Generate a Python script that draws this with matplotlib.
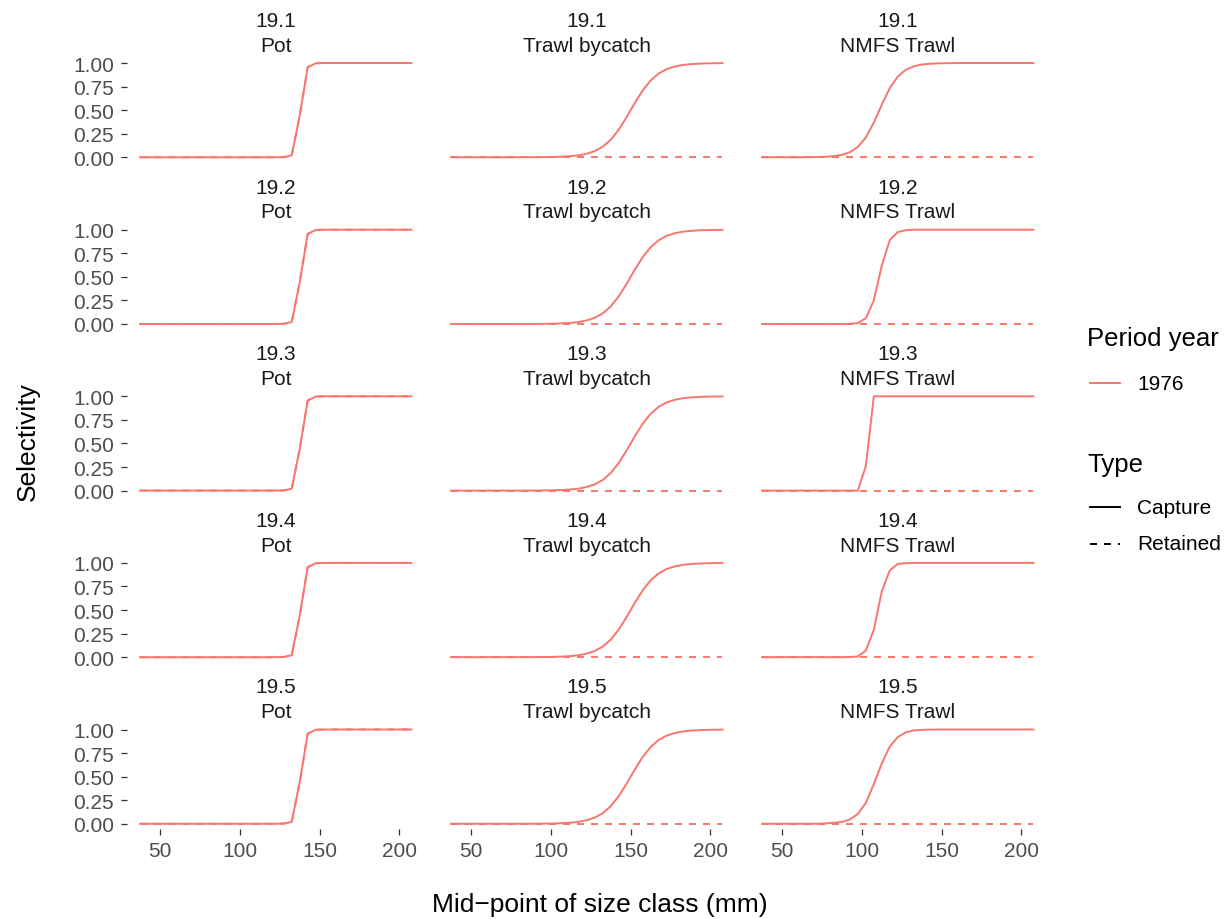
import matplotlib.pyplot as plt
from matplotlib.lines import Line2D

plt.rcParams['font.family'] = ['Liberation Sans', 'DejaVu Sans']

# size class mid-points (mm)
sizes = [37.5, 42.5, 47.5, 52.5, 57.5, 62.5, 67.5, 72.5, 77.5, 82.5,
         87.5, 92.5, 97.5, 102.5, 107.5, 112.5, 117.5, 122.5, 127.5, 132.5,
         137.5, 142.5, 147.5, 152.5, 157.5, 162.5, 167.5, 172.5, 177.5, 182.5,
         187.5, 192.5, 197.5, 202.5, 207.5]

models = ['19.1', '19.2', '19.3', '19.4', '19.5']
fleets = ['Pot', 'Trawl bycatch', 'NMFS Trawl']

pot = [0, 0, 0, 0, 0, 0, 0, 0, 0, 0,
       0, 0, 0, 0, 0, 0, 0, 0, 0.002, 0.02,
       0.44, 0.955, 0.997, 1, 1, 1, 1, 1, 1, 1,
       1, 1, 1, 1, 1]

trawl = [0, 0, 0, 0, 0, 0, 0, 0, 0, 0.0003,
         0.0006, 0.001, 0.002, 0.004, 0.007, 0.012, 0.021, 0.038, 0.066, 0.112,
         0.186, 0.292, 0.427, 0.573, 0.708, 0.814, 0.888, 0.935, 0.962, 0.979,
         0.988, 0.993, 0.996, 0.998, 0.999]

nmfs_1 = [0, 0, 0, 0, 0, 0, 0.001, 0.003, 0.006, 0.012,
          0.026, 0.054, 0.11, 0.21, 0.367, 0.558, 0.733, 0.856, 0.928, 0.965,
          0.984, 0.992, 0.996, 0.998, 0.999, 1, 1, 1, 1, 1,
          1, 1, 1, 1, 1]
nmfs_2 = [0, 0, 0, 0, 0, 0, 0, 0, 0, 0,
          0, 0.002, 0.01, 0.06, 0.25, 0.62, 0.89, 0.975, 0.995, 1,
          1, 1, 1, 1, 1, 1, 1, 1, 1, 1,
          1, 1, 1, 1, 1]
nmfs_3 = [0, 0, 0, 0, 0, 0, 0, 0, 0, 0,
          0, 0, 0, 0.26, 1, 1, 1, 1, 1, 1,
          1, 1, 1, 1, 1, 1, 1, 1, 1, 1,
          1, 1, 1, 1, 1]
nmfs_4 = [0, 0, 0, 0, 0, 0, 0, 0, 0, 0,
          0, 0.002, 0.008, 0.07, 0.29, 0.70, 0.92, 0.99, 0.998, 1,
          1, 1, 1, 1, 1, 1, 1, 1, 1, 1,
          1, 1, 1, 1, 1]
nmfs_5 = [0, 0, 0, 0, 0, 0, 0, 0, 0.004, 0.01,
          0.02, 0.046, 0.105, 0.22, 0.42, 0.64, 0.82, 0.92, 0.97, 0.99,
          0.996, 0.999, 1, 1, 1, 1, 1, 1, 1, 1,
          1, 1, 1, 1, 1]

zeros = [0, 0, 0, 0, 0, 0, 0, 0, 0, 0,
         0, 0, 0, 0, 0, 0, 0, 0, 0, 0,
         0, 0, 0, 0, 0, 0, 0, 0, 0, 0,
         0, 0, 0, 0, 0]

capture = {
    'Pot': [pot, pot, pot, pot, pot],
    'Trawl bycatch': [trawl, trawl, trawl, trawl, trawl],
    'NMFS Trawl': [nmfs_1, nmfs_2, nmfs_3, nmfs_4, nmfs_5],
}
retained = {
    'Pot': [pot, pot, pot, pot, pot],
    'Trawl bycatch': [zeros] * 5,
    'NMFS Trawl': [zeros] * 5,
}

col = '#F8766D'
lw = 1.4
dash = (0, (3.6, 3.6))
W, H = 1225, 920
fig = plt.figure(figsize=(12.25, 9.2), dpi=100)

lefts = [126.5, 437.5, 748.5]
pw = 298.5
tops = [59.3, 226.0, 392.6, 559.2, 725.8]
ph = 103.7

for r, m in enumerate(models):
    for c, f in enumerate(fleets):
        ax = fig.add_axes([lefts[c] / W, 1 - (tops[r] + ph) / H, pw / W, ph / H])
        ax.plot(sizes, retained[f][r], color=col, lw=lw, linestyle=dash)
        ax.plot(sizes, capture[f][r], color=col, lw=lw)
        ax.set_xlim(29, 216)
        ax.set_ylim(-0.05, 1.05)
        ax.set_xticks([50, 100, 150, 200])
        ax.set_yticks([0, 0.25, 0.5, 0.75, 1.0])
        ax.set_yticklabels(['0.00', '0.25', '0.50', '0.75', '1.00'])
        for s in ax.spines.values():
            s.set_visible(False)
        ax.tick_params(axis='both', length=4, width=0.9, color='#333333',
                       labelsize=15, labelcolor='#4D4D4D', pad=5)
        if c != 0:
            ax.tick_params(axis='y', left=False, labelleft=False)
        if r != len(models) - 1:
            ax.tick_params(axis='x', bottom=False, labelbottom=False)
        cx = (lefts[c] + pw / 2) / W
        fig.text(cx, 1 - (tops[r] - 38) / H, m, ha='center', va='center',
                 fontsize=15, color='#1A1A1A')
        fig.text(cx, 1 - (tops[r] - 13) / H, f, ha='center', va='center',
                 fontsize=15, color='#1A1A1A')

fig.text(600 / W, 1 - 905 / H, 'Mid\u2212point of size class (mm)', ha='center',
         va='center', fontsize=19)
fig.text(28 / W, 1 - 442 / H, 'Selectivity', ha='center', va='center',
         rotation=90, fontsize=19)

# legends
fig.text(1087 / W, 1 - 339 / H, 'Period year', ha='left', va='center', fontsize=18.5)
fig.add_artist(Line2D([1090 / W, 1120 / W], [1 - 384 / H, 1 - 384 / H], color=col, lw=lw))
fig.text(1137 / W, 1 - 384 / H, '1976', ha='left', va='center', fontsize=15)
fig.text(1087 / W, 1 - 465 / H, 'Type', ha='left', va='center', fontsize=18.5)
fig.add_artist(Line2D([1090 / W, 1120 / W], [1 - 508 / H, 1 - 508 / H], color='black', lw=lw))
fig.text(1137 / W, 1 - 508 / H, 'Capture', ha='left', va='center', fontsize=15)
fig.add_artist(Line2D([1090 / W, 1120 / W], [1 - 545 / H, 1 - 545 / H], color='black', lw=lw,
                      linestyle=dash))
fig.text(1137 / W, 1 - 545 / H, 'Retained', ha='left', va='center', fontsize=15)

fig.savefig('out.png', dpi=100)
